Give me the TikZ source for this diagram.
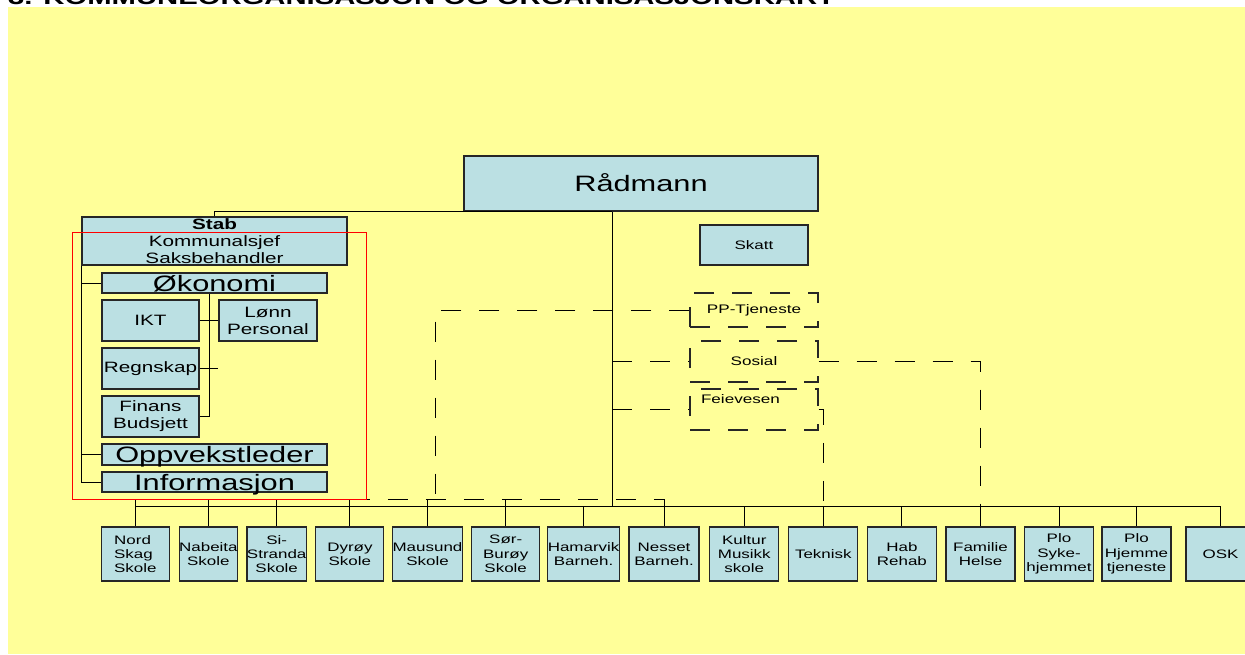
\documentclass[tikz,border=0pt]{standalone}
\usepackage{fontspec}
\setmainfont{Liberation Sans}[FakeStretch=1.38]
\usetikzlibrary{calc}
\definecolor{paper}{RGB}{255,255,153}
\definecolor{boxblue}{RGB}{187,224,227}
\tikzset{
  orgbox/.style={draw=black!85, line width=1.1pt, fill=boxblue, inner sep=0pt, align=center},
  bigbox/.style={orgbox, font=\fontsize{22.3}{24}\selectfont, text height=16pt, text depth=0pt},
  stabbox/.style={orgbox, font=\fontsize{15}{17}\selectfont},
  unitbox/.style={orgbox, font=\fontsize{12.3}{14.3}\selectfont},
  dashbox/.style={draw=black!85, line width=1.1pt, dash pattern=on 20pt off 18pt, inner sep=0pt, font=\fontsize{12.4}{14}\selectfont},
  link/.style={line width=0.9pt},
  dashlink/.style={link, dash pattern=on 20pt off 18pt},
}

\begin{document}
\begin{tikzpicture}[x=1pt,y=-1pt]
\useasboundingbox (0,0) rectangle (1245,654);
\clip (0,0) rectangle (1245,654);
\fill[paper] (8,7) rectangle (1245,654);
\node[anchor=base west, inner sep=0pt, font=\bfseries\fontsize{21.2}{24}\selectfont] (title) at (8,4) {3. KOMMUNEORGANISASJON OG ORGANISASJONSKART};

% top
\node[bigbox, minimum width=354pt, minimum height=55pt] (radmann) at (641,183.5) {Rådmann};
\node[unitbox, minimum width=108pt, minimum height=40pt] (skatt) at (754,245) {Skatt};

% stab
\node[stabbox, minimum width=265pt, minimum height=48pt] (stab) at (214.5,241) {{\bfseries Stab}\\Kommunalsjef\\Saksbehandler};
\node[bigbox, minimum width=225pt, minimum height=20pt] (oko) at (214.5,283) {Økonomi};
\node[stabbox, minimum width=97pt, minimum height=41pt] (ikt) at (150.5,320.5) {IKT};
\node[stabbox, minimum width=98pt, minimum height=41pt] (lonn) at (268,320.5) {Lønn\\Personal};
\node[stabbox, minimum width=97pt, minimum height=41pt] (regnskap) at (150.5,368.5) {Regnskap};
\node[stabbox, minimum width=97pt, minimum height=41pt] (finans) at (150.5,416.5) {Finans\\Budsjett};
\node[bigbox, minimum width=225pt, minimum height=21pt] (oppvekst) at (214.5,454.5) {Oppvekstleder};
\node[bigbox, minimum width=225pt, minimum height=20pt] (info) at (214.5,482) {Informasjon};

% dashed units
\node[dashbox, minimum width=128pt, minimum height=34pt] (pptj) at (754,310) {PP-Tjeneste};
\node[dashbox, minimum width=128pt, minimum height=41pt] (sosial) at (754,361.5) {Sosial};
\node[dashbox, minimum width=128pt, minimum height=41pt, text width=106pt, align=left, text height=10pt, text depth=22pt] (feie) at (754,409.5) {Feievesen};

% bottom row
\node[unitbox, align=left, minimum width=68pt, minimum height=54pt] (nord) at (135.4,554) {Nord\\Skag\\Skole};
\foreach \n/\cx/\w/\txt in {
  nabeita/208.4/58/{Nabeita\\Skole},
  si/276.7/58/{Si-\\Stranda\\Skole},
  dyroy/349.9/68/{Dyrøy\\Skole},
  mausund/427.5/68/{Mausund\\Skole},
  sor/505.7/68/{Sør-\\Burøy\\Skole},
  ham/583.6/68/{Hamarvik\\Barneh.},
  nesset/664/70/{Nesset\\Barneh.},
  kultur/744.3/69/{Kultur\\Musikk\\skole},
  teknisk/823.3/69/{Teknisk},
  hab/901.9/69/{Hab\\Rehab},
  familie/980.5/69/{Familie\\Helse},
  plosyk/1059/69/{Plo\\Syke-\\hjemmet},
  plohje/1136.5/69/{Plo\\Hjemme\\tjeneste},
  osk/1220.5/69/{OSK}}{
  \node[unitbox, minimum width=\w pt, minimum height=54pt] (\n) at (\cx,554) {\txt};
}

% connectors
\coordinate (bus) at (612,506);
\coordinate (schoolbus) at (dyroy.north |- 0,499);
\coordinate (ppdrop) at (435,499);
\draw[link] (stab.north) |- (radmann.south -| bus);
\draw[link] (radmann.south -| bus) -- (bus);
\draw[link] (nord.north |- bus) -- (osk.north |- bus);
\foreach \n in {ham,nesset,kultur,teknisk,hab,familie,plosyk,plohje,osk}
  \draw[link] (\n.north |- bus) -- (\n.north);
\foreach \n in {nord,nabeita,si,dyroy,mausund,sor}
  \draw[link] (\n.north |- schoolbus) -- (\n.north);
\draw[link] (nord.north |- schoolbus) -- (schoolbus);
\draw[dashlink] (schoolbus) -- (nesset.north |- schoolbus) -- (nesset.north |- bus);
\draw[dashlink] (pptj.west) -| (ppdrop);
\draw[dashlink] (sosial.west -| bus) -- (sosial.west);
\draw[dashlink] (sosial.east) -| (familie.north |- bus);
\draw[dashlink] (feie.west -| bus) -- (feie.west);
\draw[dashlink] (feie.east) -| (teknisk.north |- bus);

% stab lines
\draw[link] (stab.south west) |- (info.west);
\draw[link] (stab.south west |- oko.west) -- (oko.west);
\draw[link] (stab.south west |- oppvekst.west) -- (oppvekst.west);
\coordinate (okobus) at ($(ikt.east)!.5!(lonn.west)$);
\draw[link] (oko.south -| okobus) |- (finans.east);
\draw[link] (ikt.east) -- (lonn.west);
\draw[link] (regnskap.east) -- (regnskap.east -| lonn.west);

\draw[red, line width=1pt] (72,232) rectangle (366,499);
\end{tikzpicture}
\end{document}
